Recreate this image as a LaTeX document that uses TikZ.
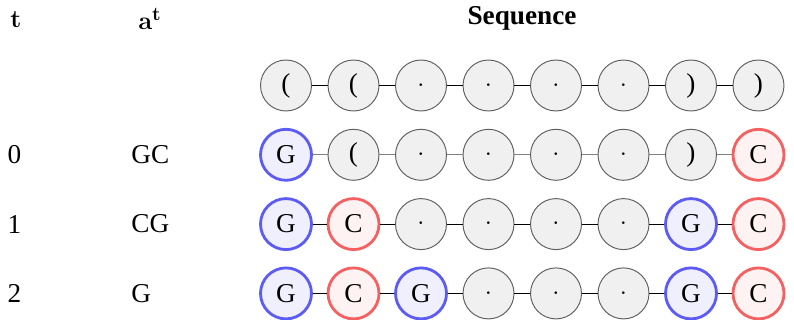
\documentclass[tikz,border=0pt]{standalone}
\usepackage[no-math]{fontspec}
\setmainfont{Liberation Serif}
\definecolor{gblue}{RGB}{92,92,245}
\definecolor{cred}{RGB}{245,96,96}
\newcommand{\opn}{(}
\newcommand{\cls}{)}
\newcommand{\dt}{$\cdot$}
\begin{document}
\begin{tikzpicture}[x=0.02cm,y=-0.02cm,
  every node/.style={font=\fontsize{15.5}{18}\selectfont},
  lbl/.style={inner sep=0pt},
  base/.style={circle, minimum size=1.02cm, inner sep=0pt},
  plain/.style={base, draw=gray!75!black, fill=gray!12, line width=0.55pt},
  gnode/.style={base, draw=gblue, fill=gblue!10, line width=1.6pt},
  cnode/.style={base, draw=cred, fill=cred!8, line width=1.6pt},
  link/.style={line width=0.6pt}]
\useasboundingbox (0,0) rectangle (794,320);
% headers
\node[lbl] (th) at (16,19) {$\mathbf{t}$};
\node[lbl] (ah) at (150,19) {$\mathbf{a}^{\mathbf{t}}$};
\node[lbl,font=\fontsize{15.5}{18}\selectfont\bfseries] (sh) at (522,18) {Sequence};
% step and action labels
\node[lbl] (t0) at (14.5,154.8) {0};
\node[lbl] (t1) at (14.5,224.1) {1};
\node[lbl] (t2) at (14.5,293.4) {2};
\node[lbl,anchor=west] (a0) at (131,154.8) {GC};
\node[lbl,anchor=west] (a1) at (131,224.1) {CG};
\node[lbl,anchor=west] (a2) at (131,293.4) {G};
% sequences
\foreach \s/\t [count=\i] in {plain/\opn, plain/\opn, plain/\dt, plain/\dt, plain/\dt, plain/\dt, plain/\cls, plain/\cls}
  \node[\s] (r0-\i) at ({286+67.5*(\i-1)},85.5) {\t};
\foreach \s/\t [count=\i] in {gnode/G, plain/\opn, plain/\dt, plain/\dt, plain/\dt, plain/\dt, plain/\cls, cnode/C}
  \node[\s] (r1-\i) at ({286+67.5*(\i-1)},154.8) {\t};
\foreach \s/\t [count=\i] in {gnode/G, cnode/C, plain/\dt, plain/\dt, plain/\dt, plain/\dt, gnode/G, cnode/C}
  \node[\s] (r2-\i) at ({286+67.5*(\i-1)},224.1) {\t};
\foreach \s/\t [count=\i] in {gnode/G, cnode/C, gnode/G, plain/\dt, plain/\dt, plain/\dt, gnode/G, cnode/C}
  \node[\s] (r3-\i) at ({286+67.5*(\i-1)},293.4) {\t};
% backbone
\foreach \r/\c in {0/black, 1/gray, 2/black, 3/black}
  \foreach \i in {1,...,7}{
    \pgfmathtruncatemacro\j{\i+1}
    \draw[link,\c] (r\r-\i) -- (r\r-\j);
  }
\end{tikzpicture}
\end{document}
